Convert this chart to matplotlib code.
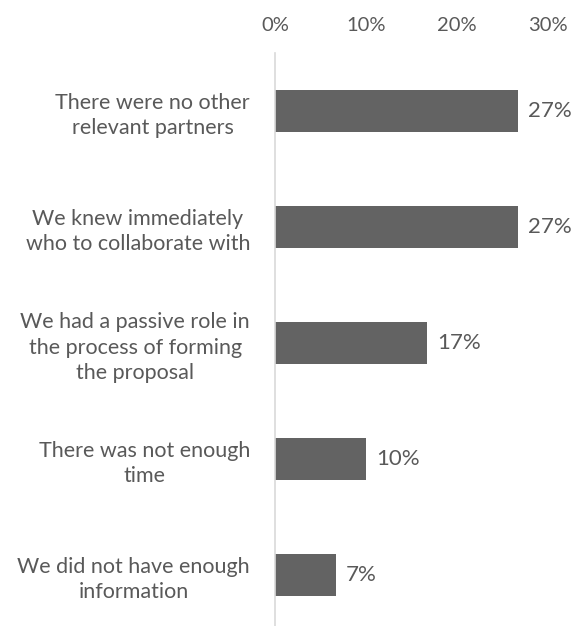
import matplotlib.pyplot as plt
from matplotlib.ticker import FuncFormatter

# Reasons for not looking for more partners (share of respondents, n=30)
reasons = [
    "There were no other\nrelevant partners",
    "We knew immediately\nwho to collaborate with",
    "We had a passive role in\nthe process of forming\nthe proposal",
    "There was not enough\ntime",
    "We did not have enough\ninformation",
]
shares = [26.7, 26.7, 16.7, 10.0, 6.7]
ticks = [0, 10, 20, 30]

plt.rcParams['font.family'] = ['Lato', 'DejaVu Sans']
text_color = '#595959'

fig = plt.figure(figsize=(5.8, 6.26), dpi=100)
ax = fig.add_axes([275 / 580, 0, (548 - 275) / 580, 1 - 53 / 626])

pos = list(range(len(reasons)))
bars = ax.barh(pos, shares, height=0.36, color='#636363', zorder=2)

ax.set_xlim(0, 30)
ax.set_ylim(4.44, -0.5)
ax.set_xticks(ticks)
ax.xaxis.set_major_formatter(FuncFormatter(lambda v, p: f'{v:.0f}%'))
ax.xaxis.tick_top()
ax.tick_params(axis='x', length=0, pad=14, labelsize=14.5, labelcolor=text_color)

ax.set_yticks(pos)
ax.set_yticklabels(reasons, fontsize=15.5, color=text_color, ha='right',
                   multialignment='center', linespacing=1.32)
ax.tick_params(axis='y', length=0, pad=18)

for side in ['top', 'right', 'bottom']:
    ax.spines[side].set_visible(False)
ax.spines['left'].set_color('#d9d9d9')
ax.spines['left'].set_linewidth(1.2)

# value labels next to each bar
for bar, v in zip(bars, shares):
    ax.text(bar.get_width() + 1.1, bar.get_y() + bar.get_height() / 2,
            f'{v:.0f}%', va='center', ha='left', fontsize=16, color=text_color)

fig.savefig('out.png', dpi=100)
